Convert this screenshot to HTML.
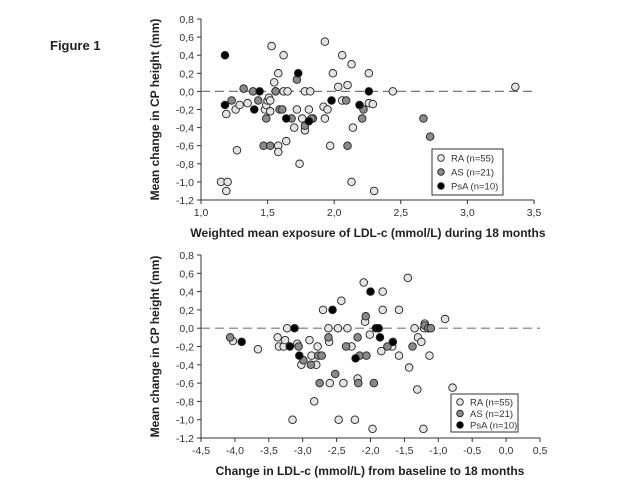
<!DOCTYPE html>
<html><head><meta charset="utf-8">
<style>
html,body{margin:0;padding:0;background:#fff;}
svg{display:block;font-family:"Liberation Sans",Arial,sans-serif;}
</style></head>
<body>
<svg id="fig" width="644" height="483" viewBox="0 0 644 483">
<text x="50" y="50" font-size="13" font-weight="bold" fill="#222">Figure 1</text>
</svg>
<script>
// ---- Panel A data ----
const aXTicks=[1.0,1.5,2.0,2.5,3.0,3.5];
const yTicks=[0.8,0.6,0.4,0.2,0.0,-0.2,-0.4,-0.6,-0.8,-1.0,-1.2];
const aRAx=[1.15,1.2,1.19,1.19,1.27,1.26,1.29,1.35,1.48,1.49,1.5,1.51,1.52,1.52,1.53,1.55,1.56,1.58,1.58,1.58,1.62,1.62,1.65,1.64,1.72,1.7,1.74,1.76,1.78,1.78,1.81,1.82,1.84,1.92,1.93,1.93,1.95,1.97,1.99,2.03,2.06,2.06,2.1,2.13,2.13,2.14,2.26,2.26,2.29,2.3,2.44,3.36];
const aRAy=[-1.0,-1.0,-1.1,-0.25,-0.65,-0.2,-0.15,-0.13,-0.2,-0.15,-0.1,-0.07,-0.1,-0.22,0.5,0.1,0.0,0.2,-0.6,-0.67,0.4,0.0,0.0,-0.55,-0.2,-0.4,-0.8,-0.3,0.0,-0.43,-0.2,0.0,-0.3,-0.17,0.55,-0.3,-0.2,-0.6,0.2,0.05,0.4,-0.1,0.07,0.3,-1.0,-0.4,0.2,-0.13,-0.14,-1.1,0.0,0.05];
const aASx=[1.23,1.32,1.39,1.43,1.47,1.49,1.52,1.56,1.59,1.61,1.68,1.72,1.78,1.83,2.09,2.1,2.21,2.22,2.67,2.72];
const aASy=[-0.1,0.03,0.0,-0.1,-0.6,-0.3,-0.6,0.0,-0.2,-0.2,-0.3,0.13,-0.38,-0.3,-0.1,-0.6,-0.3,-0.2,-0.3,-0.5];
const aPsAx=[1.18,1.18,1.4,1.44,1.64,1.73,1.81,1.98,2.19,2.26];
const aPsAy=[0.4,-0.15,-0.2,0.0,-0.3,0.2,-0.33,-0.1,-0.15,0.0];
// ---- Panel B data ----
const bXTicks=[-4.5,-4.0,-3.5,-3.0,-2.5,-2.0,-1.5,-1.0,-0.5,0.0,0.5];
const bRAx=[-4.03,-3.66,-3.37,-3.35,-3.28,-3.26,-3.23,-3.15,-3.08,-3.02,-2.9,-2.87,-2.83,-2.8,-2.78,-2.7,-2.62,-2.61,-2.6,-2.48,-2.47,-2.43,-2.4,-2.34,-2.28,-2.23,-2.19,-2.1,-2.08,-2.01,-1.97,-1.84,-1.82,-1.82,-1.68,-1.58,-1.58,-1.45,-1.43,-1.35,-1.31,-1.3,-1.25,-1.22,-1.21,-1.2,-1.13,-0.9,-0.79];
const bRAy=[-0.14,-0.23,-0.1,-0.2,-0.2,-0.13,0.0,-1.0,-0.17,-0.4,-0.13,-0.3,-0.8,-0.4,-0.2,0.2,0.0,-0.15,-0.6,0.0,-1.0,0.3,-0.6,0.0,-0.2,-1.0,-0.55,0.5,0.07,-0.07,-1.1,-0.25,0.4,0.2,-0.2,0.2,-0.3,0.55,-0.43,0.0,-0.67,-0.1,-0.15,-1.1,0.0,0.05,-0.3,0.1,-0.65];
const bASx=[-4.07,-3.06,-2.99,-2.88,-2.77,-2.75,-2.72,-2.62,-2.52,-2.36,-2.19,-2.18,-2.16,-2.07,-2.06,-1.95,-1.75,-1.38,-1.2,-1.15,-1.11];
const bASy=[-0.1,-0.2,-0.35,-0.4,-0.3,-0.6,-0.3,-0.1,-0.5,-0.2,-0.1,-0.6,-0.3,0.13,-0.3,-0.6,-0.2,-0.2,0.03,0.0,0.0];
const bPsAx=[-3.9,-3.19,-3.12,-3.05,-2.56,-2.22,-2.0,-1.92,-1.88,-1.86,-1.67];
const bPsAy=[-0.15,-0.2,0.0,-0.3,0.2,-0.33,0.4,0.0,0.0,-0.1,-0.15];
const legendLabels=["RA (n=55)","AS (n=21)","PsA (n=10)"];

const NS="http://www.w3.org/2000/svg";
const svg=document.getElementById('fig');
function mk(tag,attrs,parent){const e=document.createElementNS(NS,tag);for(const k in attrs)e.setAttribute(k,attrs[k]);(parent||svg).appendChild(e);return e;}
const fmt=v=>v.toFixed(1).replace('.',',').replace('-0,0','0,0');
const fills=["#e4e4e4","#8a8a8a","#000"];

function panel(p){
  const g=mk('g',{});
  
  
  const sx=v=>p.x0+(v-p.xmin)/(p.xmax-p.xmin)*(p.x1-p.x0);
  const sy=v=>p.y1+(v-(-1.2))/(2.0)*(p.y0-p.y1);
  const ax=mk('line',{x1:p.x0,y1:p.y0,x2:p.x0,y2:p.y1,stroke:'#333','stroke-width':1},g);
  
  const bx=mk('line',{x1:p.x0,y1:p.y1,x2:p.x1,y2:p.y1,stroke:'#333','stroke-width':1},g);
  
  yTicks.forEach(v=>{const y=sy(v);
    mk('line',{x1:p.x0-4,y1:y,x2:p.x0,y2:y,stroke:'#333'},g);
    const t=mk('text',{x:p.x0-7,y:y+4,'font-size':10.5,'text-anchor':'end',fill:'#333'},g);t.textContent=fmt(v);
    });
  p.xt.forEach(v=>{const x=sx(v);
    mk('line',{x1:x,y1:p.y1,x2:x,y2:p.y1+4,stroke:'#333'},g);
    const t=mk('text',{x:x,y:p.y1+16,'font-size':10.5,'text-anchor':'middle',fill:'#333'},g);t.textContent=fmt(v);
    });
  const z=mk('line',{x1:p.x0,y1:sy(0),x2:p.x1,y2:sy(0),stroke:'#777','stroke-width':1.2,'stroke-dasharray':'9,5'},g);
  
  const names=['ra-point','as-point','psa-point'];
  p.series.forEach((s,i)=>{s[0].forEach((xv,j)=>{
    const c=mk('circle',{cx:sx(xv),cy:sy(s[1][j]),r:3.8,fill:fills[i],stroke:'#222','stroke-width':0.9},g);
    });});
  const yl=mk('text',{x:0,y:0,'font-size':12,'font-weight':'bold','text-anchor':'middle',fill:'#222',transform:`translate(${p.x0-42},${(p.y0+p.y1)/2}) rotate(-90)`},g);
  yl.textContent='Mean change in CP height (mm)';
  
  const xl=mk('text',{x:p.xlx,y:p.y1+37,'font-size':12,'font-weight':'bold','text-anchor':'middle',fill:'#222'},g);
  xl.textContent=p.xlabel;
  
  const L=p.leg;
  const lg=mk('g',{},g);
  mk('rect',{x:L[0],y:L[1],width:L[2],height:L[3],fill:'#fff',stroke:'#333'},lg);
  legendLabels.forEach((lab,i)=>{const yy=L[1]+p.l0+i*p.ls;
    const e=mk('g',{},lg);
    mk('circle',{cx:L[0]+9,cy:yy,r:3.3,fill:fills[i],stroke:'#222','stroke-width':0.9},e);
    const t=mk('text',{x:L[0]+19,y:yy+3.5,'font-size':9.5,fill:'#333'},e);t.textContent=lab;});
}
panel({name:'panel-a-chart',x0:201,x1:534,y0:19,y1:200,xmin:1.0,xmax:3.5,xt:aXTicks,
  series:[[aRAx,aRAy],[aASx,aASy],[aPsAx,aPsAy]],xlx:368,l0:9,ls:14,
  xlabel:'Weighted mean exposure of LDL-c (mmol/L) during 18 months',leg:[432,149,71,46]});
panel({name:'panel-b-chart',x0:201,x1:540,y0:255,y1:438,xmin:-4.5,xmax:0.5,xt:bXTicks,
  series:[[bRAx,bRAy],[bASx,bASy],[bPsAx,bPsAy]],xlx:370,l0:8,ls:11.5,
  xlabel:'Change in LDL-c (mmol/L) from baseline to 18 months',leg:[451,394,67,38]});
</script>
</body></html>
